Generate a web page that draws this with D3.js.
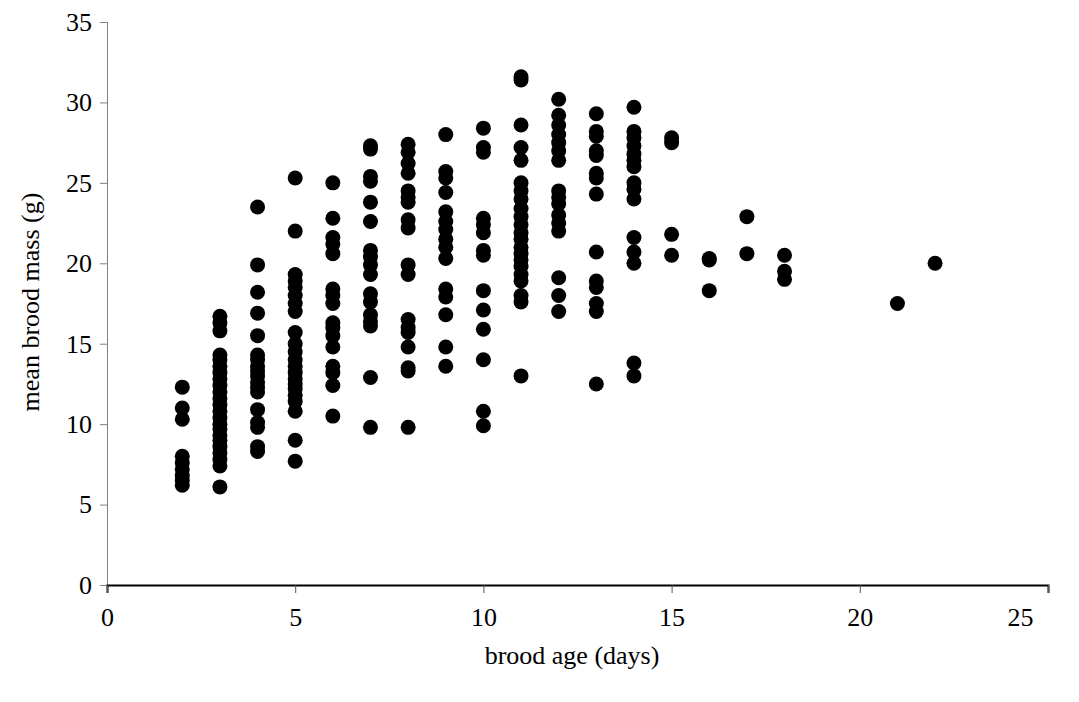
<!DOCTYPE html>
<html>
<head>
<meta charset="utf-8">
<script src="https://cdn.jsdelivr.net/npm/d3@7"></script>
<style>
  html, body { margin: 0; padding: 0; background: #fff; }
  svg { display: block; }
  svg text { font-family: "Liberation Serif", "Times New Roman", serif !important; fill: #000; }
</style>
</head>
<body>
<svg id="chart" width="1079" height="702"></svg>
<script>
// brood age (days) for each column of points
const ages = [2, 3, 4, 5, 6, 7, 8, 9, 10, 11, 12, 13, 14, 15, 16, 17, 18, 21, 22];
// mean brood mass (g) readings for each age, same order as ages
const masses = [
  [12.3, 11.0, 10.3, 8.0, 7.6, 7.2, 6.8, 6.5, 6.2],
  [16.7, 16.3, 15.8, 14.3, 14.0, 13.6, 13.2, 12.8, 12.4, 12.0, 11.6, 11.2, 10.8, 10.4, 10.0, 9.7, 9.3, 9.0, 8.6, 8.2, 7.8, 7.4, 6.1],
  [23.5, 19.9, 18.2, 16.9, 15.5, 14.3, 14.0, 13.6, 13.3, 13.0, 12.6, 12.3, 12.0, 10.9, 10.1, 9.8, 8.6, 8.3],
  [25.3, 22.0, 19.3, 18.9, 18.5, 18.0, 17.5, 17.0, 15.7, 15.0, 14.5, 14.0, 13.6, 13.2, 12.8, 12.5, 12.2, 11.8, 11.4, 10.8, 9.0, 7.7],
  [25.0, 22.8, 21.6, 21.2, 20.6, 18.4, 18.0, 17.5, 16.3, 16.0, 15.5, 14.8, 13.6, 13.2, 12.4, 10.5],
  [27.3, 27.1, 25.4, 25.1, 23.8, 22.6, 20.8, 20.4, 19.9, 19.3, 18.1, 17.6, 16.8, 16.4, 16.1, 12.9, 9.8],
  [27.4, 26.9, 26.2, 25.6, 24.5, 24.1, 23.8, 22.7, 22.2, 19.9, 19.3, 16.5, 16.0, 15.7, 14.8, 13.5, 13.3, 9.8],
  [28.0, 25.7, 25.3, 24.4, 23.2, 22.6, 22.1, 21.5, 21.0, 20.3, 18.4, 17.9, 16.8, 14.8, 13.6],
  [28.4, 27.2, 26.9, 22.8, 22.4, 21.9, 20.8, 20.5, 18.3, 17.1, 15.9, 14.0, 10.8, 9.9],
  [31.6, 31.4, 28.6, 27.2, 26.4, 25.0, 24.5, 24.0, 23.4, 22.9, 22.4, 21.9, 21.5, 21.0, 20.6, 20.2, 19.8, 19.3, 18.9, 18.0, 17.6, 13.0],
  [30.2, 29.2, 28.6, 28.0, 27.5, 27.0, 26.4, 24.5, 24.1, 23.7, 23.0, 22.5, 22.0, 19.1, 18.0, 17.0],
  [29.3, 28.2, 27.9, 27.0, 26.7, 25.6, 25.3, 24.3, 20.7, 18.9, 18.5, 17.5, 17.0, 12.5],
  [29.7, 28.2, 27.8, 27.3, 26.8, 26.4, 26.0, 25.0, 24.6, 24.0, 21.6, 20.7, 20.0, 13.8, 13.0],
  [27.8, 27.5, 21.8, 20.5],
  [20.3, 20.2, 18.3],
  [22.9, 20.6],
  [20.5, 19.5, 19.0],
  [17.5],
  [20.0]
];
const xTicks = [0, 5, 10, 15, 20, 25];
const yTicks = [0, 5, 10, 15, 20, 25, 30, 35];
const xTitle = "brood age (days)";
const yTitle = "mean brood mass (g)";

const points = [];
ages.forEach((a, i) => masses[i].forEach(m => points.push({ age: a, mass: m })));

const svg = d3.select("#chart");
const x = d3.scaleLinear().domain([0, 25]).range([107, 1048]);
const y = d3.scaleLinear().domain([0, 35]).range([585, 22]);

// y axis
const yAxis = svg.append("g")
  .attr("transform", `translate(${x(0)},0)`)
  .call(d3.axisLeft(y).tickValues(yTicks).tickSize(7).tickPadding(8).tickFormat(d3.format("d")));
yAxis.attr("font-family", null).attr("font-size", null);
yAxis.select(".domain").attr("stroke", "#808080").attr("stroke-width", 1);
yAxis.selectAll(".tick line").attr("stroke", "#808080");
yAxis.selectAll("text").style("font-size", "26px");

// x axis
const xAxis = svg.append("g")
  .attr("transform", `translate(0,${y(0)})`)
  .call(d3.axisBottom(x).tickValues(xTicks).tickSize(8).tickPadding(15).tickFormat(d3.format("d")));
xAxis.attr("font-family", null).attr("font-size", null);
xAxis.select(".domain").attr("stroke", "#000").attr("stroke-width", 2);
xAxis.selectAll(".tick line").attr("stroke", "#555");
xAxis.selectAll("text").style("font-size", "26px")
  .attr("dx", d => d === 25 ? -28 : 0);

// points
svg.append("g").selectAll("circle").data(points).join("circle")
  .attr("cx", d => x(d.age))
  .attr("cy", d => y(d.mass))
  .attr("r", 7.5)
  .attr("fill", "#000");

// titles
svg.append("text").attr("x", 572).attr("y", 664).attr("text-anchor", "middle")
  .style("font-size", "26px").text(xTitle);
svg.append("text").attr("transform", `translate(39,${302}) rotate(-90)`)
  .attr("text-anchor", "middle").style("font-size", "26px").text(yTitle);
</script>
</body>
</html>
